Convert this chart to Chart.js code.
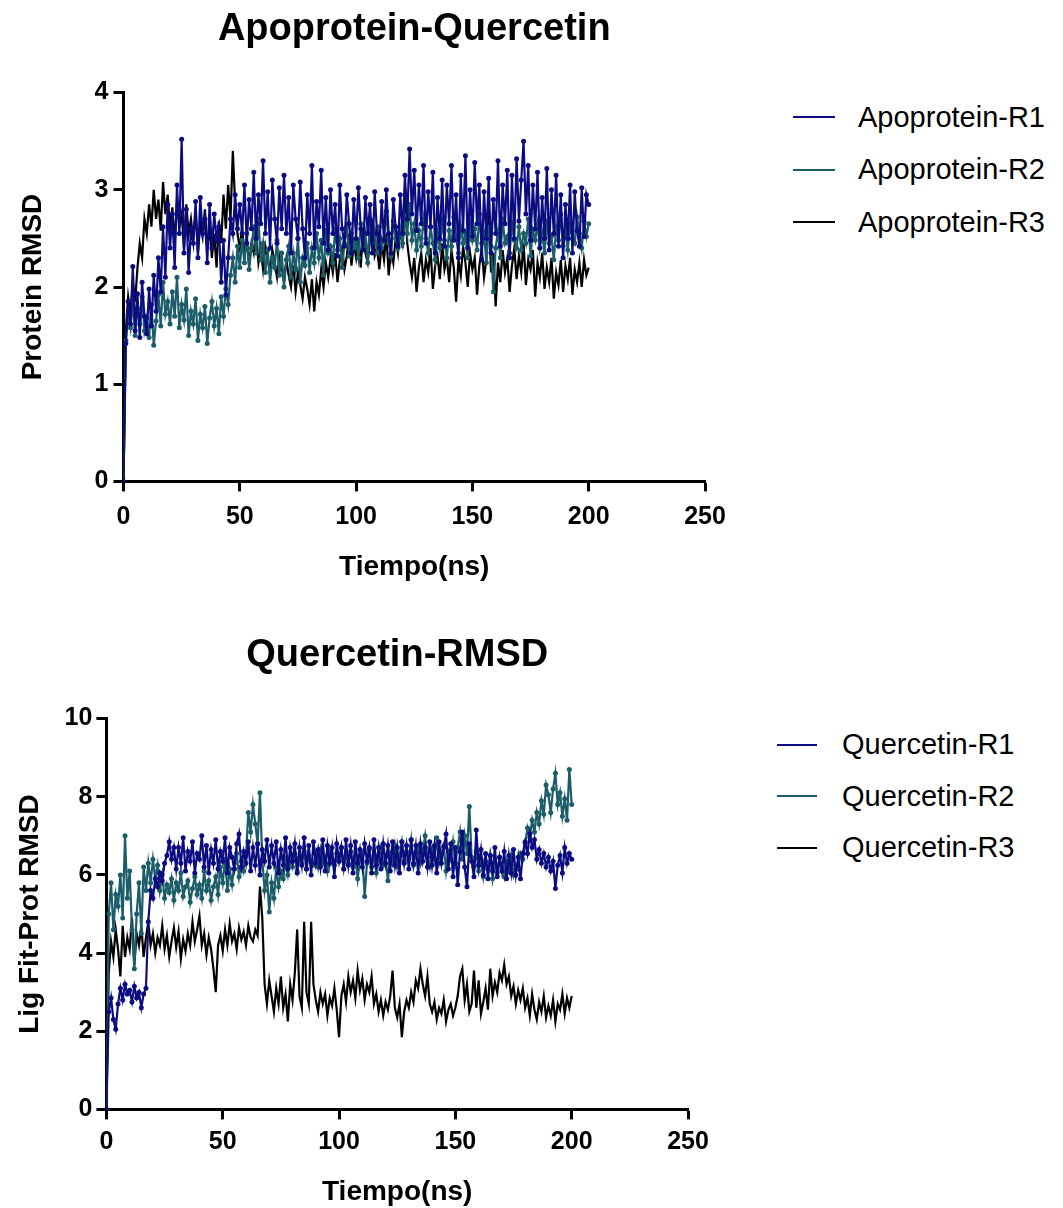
<!DOCTYPE html>
<html>
<head>
<meta charset="utf-8">
<script src="https://cdn.jsdelivr.net/npm/chart.js@4.4.1/dist/chart.umd.min.js"></script>
<style>
  html, body { margin: 0; padding: 0; background: #fff; }
  body { width: 1063px; height: 1208px; position: relative; overflow: hidden; font-family: "Liberation Sans", Arial, sans-serif; }
  .plot { position: absolute; left: 0; }
  .legend { position: absolute; }
  .legend-row { display: flex; align-items: center; font-size: 29px; color: #000; white-space: nowrap; }
  .legend-line { display: inline-block; height: 2px; }
</style>
</head>
<body>
<canvas id="apo-chart" class="plot" width="760" height="600" style="top:0px"></canvas>
<canvas id="quer-chart" class="plot" width="760" height="609" style="top:600px"></canvas>
<div id="apo-legend" class="legend"></div>
<div id="quer-legend" class="legend"></div>
<script>
// sampling: one frame per ns, 0..200 ns
const timeNs = Array.from({ length: 201 }, (_, i) => i);
const xTicks = [0, 50, 100, 150, 200, 250];
const apoYTicks = [0, 1, 2, 3, 4];
const querYTicks = [0, 2, 4, 6, 8, 10];

const apoNames = ['Apoprotein-R1', 'Apoprotein-R2', 'Apoprotein-R3'];
const querNames = ['Quercetin-R1', 'Quercetin-R2', 'Quercetin-R3'];
const seriesColors = ['#0c0c82', '#1b5d69', '#000000'];

// Protein RMSD (top panel)
const apoR1 = [
  0, 1.42, 1.85, 1.62, 2.21, 1.55, 1.93, 1.48, 2.05, 1.70,
  1.52, 1.98, 1.60, 2.12, 1.75, 2.30, 1.95, 2.62, 2.10, 2.85,
  2.40, 2.75, 2.20, 3.05, 2.55, 3.52, 2.35, 2.80, 2.15, 2.60,
  2.45, 2.88, 2.30, 2.92, 2.55, 2.70, 2.25, 2.85, 2.40, 2.75,
  2.50, 2.62, 2.05, 2.48, 1.92, 2.30, 2.70, 2.55, 2.95, 2.60,
  2.85, 2.55, 3.05, 2.45, 2.90, 2.60, 3.18, 2.50, 2.95, 2.65,
  3.30, 2.55, 2.98, 2.40, 3.10, 2.70, 2.45, 3.02, 2.60, 3.15,
  2.55, 2.92, 2.35, 3.05, 2.70, 2.50, 3.08, 2.60, 2.30, 2.95,
  2.55, 3.25, 2.40, 2.88, 2.62, 3.20, 2.45, 2.92, 2.38, 3.00,
  2.55, 2.85, 2.32, 3.05, 2.60, 2.42, 2.95, 2.65, 2.35, 2.90,
  2.50, 3.02, 2.60, 2.38, 2.92, 2.55, 2.85, 2.35, 2.98, 2.55,
  2.40, 2.88, 2.48, 3.00, 2.55, 2.35, 2.90, 2.62, 2.42, 2.95,
  2.55, 3.15, 2.70, 3.42, 2.75, 3.20, 2.58, 3.05, 2.65, 3.25,
  2.45, 2.98, 2.62, 3.18, 2.35, 2.92, 2.50, 3.10, 2.42, 3.05,
  2.65, 3.25, 2.48, 2.95, 2.30, 3.15, 2.58, 3.35, 2.40, 3.00,
  2.52, 3.28, 2.65, 3.05, 2.28, 2.98, 2.50, 3.12, 2.35, 2.90,
  2.55, 3.30, 2.42, 3.05, 2.65, 3.20, 2.30, 3.15, 2.50, 3.32,
  2.68, 3.10, 3.50, 2.75, 3.25, 2.48, 3.05, 2.60, 3.18, 2.40,
  2.92, 2.50, 3.22, 2.38, 3.00, 2.55, 3.15, 2.42, 2.95, 2.30,
  2.85, 2.50, 3.05, 2.35, 2.98, 2.58, 2.42, 3.02, 2.52, 2.95,
  2.85
];
const apoR2 = [
  0, 1.45, 1.72, 1.58, 1.85, 1.50, 1.78, 1.62, 1.90, 1.55,
  1.68, 1.48, 1.82, 1.40, 1.65, 1.92, 1.60, 2.05, 1.72, 1.85,
  1.62, 1.95, 1.70, 2.10, 1.58, 1.82, 1.66, 1.98, 1.50, 1.75,
  1.62, 1.88, 1.45, 1.72, 1.58, 1.80, 1.42, 1.68, 1.85, 1.60,
  1.78, 1.52, 1.90, 1.70, 1.98, 1.82, 2.12, 2.30, 2.05, 2.42,
  2.20, 2.48, 2.25, 2.55, 2.18, 2.40, 2.62, 2.35, 2.70, 2.28,
  2.45, 2.15, 2.38, 2.05, 2.30, 2.20, 2.48, 2.12, 2.35, 2.00,
  2.28, 2.42, 2.10, 2.35, 2.18, 2.50, 2.05, 2.30, 2.22, 2.45,
  2.15, 2.40, 2.25, 2.55, 2.30, 2.48, 2.12, 2.58, 2.35, 2.42,
  2.25, 2.60, 2.38, 2.50, 2.20, 2.45, 2.62, 2.32, 2.55, 2.40,
  2.48, 2.30, 2.65, 2.42, 2.55, 2.25, 2.70, 2.45, 2.58, 2.35,
  2.62, 2.40, 2.50, 2.78, 2.45, 2.32, 2.68, 2.50, 2.40, 2.60,
  2.45, 2.72, 2.55, 2.85, 2.48, 2.65, 2.38, 2.58, 2.42, 2.70,
  2.50, 2.35, 2.62, 2.45, 2.28, 2.55, 2.40, 2.68, 2.48, 2.30,
  2.58, 2.42, 2.72, 2.50, 2.35, 2.62, 2.45, 2.55, 2.30, 2.68,
  2.48, 2.60, 2.38, 2.75, 2.45, 2.55, 2.25, 2.62, 2.42, 1.95,
  2.40, 2.58, 2.30, 2.70, 2.45, 2.52, 2.35, 2.65, 2.48, 2.40,
  2.62, 2.38, 2.55, 2.45, 2.70, 2.32, 2.58, 2.48, 2.65, 2.40,
  2.55, 2.35, 2.68, 2.45, 2.52, 2.28, 2.62, 2.48, 2.75, 2.42,
  2.58, 2.38, 2.65, 2.50, 2.45, 2.72, 2.55, 2.40, 2.68, 2.52,
  2.65
];
const apoR3 = [
  0, 1.55, 1.90, 1.72, 2.05, 1.85, 2.20, 2.45, 2.30, 2.70,
  2.55, 2.85, 2.62, 3.00, 2.70, 2.90, 2.58, 3.08, 2.75, 2.95,
  2.60, 2.82, 2.45, 2.90, 2.62, 2.75, 2.40, 2.85, 2.55, 2.70,
  2.48, 2.78, 2.35, 2.65, 2.52, 2.80, 2.42, 2.60, 2.30, 2.55,
  2.20, 2.68, 2.45, 2.95, 2.60, 3.05, 2.70, 3.40, 2.85, 2.55,
  2.40, 2.62, 2.30, 2.50, 2.22, 2.45, 2.35, 2.58, 2.25, 2.40,
  2.18, 2.42, 2.30, 2.15, 2.38, 2.25, 2.10, 2.32, 2.20, 2.05,
  2.28, 2.12, 2.00, 2.22, 1.95, 2.15, 2.02, 1.88, 2.10, 1.98,
  1.82, 2.08, 1.75, 2.05, 1.92, 2.18, 2.00, 2.25, 2.10, 2.30,
  2.15, 2.35, 2.05, 2.28, 2.40, 2.18, 2.32, 2.55, 2.22, 2.45,
  2.30, 2.50, 2.20, 2.62, 2.35, 2.25, 2.48, 2.70, 2.32, 2.40,
  2.18, 2.45, 2.28, 2.55, 2.12, 2.38, 2.25, 2.50, 2.35, 2.62,
  2.40, 3.00, 2.45, 2.25, 2.10, 2.30, 1.95, 2.20, 2.35, 2.05,
  2.28, 2.15, 2.40, 1.98, 2.22, 2.32, 2.08, 2.45, 2.18, 2.30,
  2.05, 2.38, 2.20, 1.85, 2.28, 2.12, 2.42, 2.25, 2.00, 2.35,
  2.18, 2.30, 1.92, 2.22, 2.40, 2.10, 2.28, 2.82, 2.15, 2.35,
  1.80, 2.25, 2.05, 2.38, 2.15, 2.30, 1.95, 2.22, 2.40, 2.08,
  2.32, 2.15, 2.45, 2.02, 2.28, 2.18, 2.38, 1.90, 2.25, 2.10,
  2.35, 1.98, 2.20, 2.05, 2.30, 1.88, 2.15, 2.02, 2.28, 1.95,
  2.22, 2.08, 2.30, 1.92, 2.18, 2.05, 2.25, 2.00, 2.28, 2.12,
  2.20
];

// Ligand fit-on-protein RMSD (bottom panel)
const querR1 = [
  0, 2.50, 2.85, 2.30, 2.05, 2.70, 3.10, 2.80, 3.20, 2.95,
  3.05, 2.75, 3.15, 2.85, 3.00, 2.60, 2.95, 3.10, 4.80, 5.60,
  5.40, 5.90, 5.70, 6.05, 5.85, 6.30, 6.50, 6.85, 6.40, 6.70,
  6.15, 6.70, 6.30, 6.95, 6.10, 6.60, 6.35, 6.85, 6.05, 6.55,
  6.40, 7.00, 6.20, 6.75, 6.05, 6.65, 6.30, 6.90, 6.15, 6.60,
  6.35, 6.95, 6.05, 6.70, 6.45, 6.15, 6.80, 7.05, 6.20, 6.60,
  6.30, 6.85, 6.10, 6.70, 6.25, 6.80, 6.00, 6.65, 6.35, 6.90,
  6.20, 6.75, 6.30, 6.85, 6.05, 6.65, 6.25, 6.95, 6.15, 6.70,
  6.35, 6.80, 6.05, 6.70, 6.25, 6.95, 6.15, 6.75, 6.00, 6.85,
  6.30, 6.65, 6.20, 6.90, 6.10, 6.75, 6.30, 6.70, 5.95, 6.80,
  6.35, 6.70, 6.15, 6.90, 6.25, 6.75, 6.05, 6.85, 6.30, 6.65,
  6.20, 6.80, 6.35, 6.70, 6.05, 6.90, 6.25, 6.70, 6.15, 6.80,
  6.30, 6.75, 6.10, 6.85, 6.25, 6.70, 6.05, 6.85, 6.30, 6.75,
  6.15, 6.90, 6.30, 6.75, 6.05, 6.80, 6.35, 6.70, 6.20, 6.85,
  6.25, 6.75, 6.05, 6.85, 6.30, 6.70, 7.05, 6.15, 6.80, 5.95,
  6.70, 5.75, 6.60, 7.10, 6.20, 5.70, 6.80, 6.35, 5.95, 7.15,
  6.25, 6.65, 6.00, 6.55, 5.90, 6.50, 6.10, 6.70, 5.95, 6.45,
  6.10, 6.60, 5.90, 6.50, 6.05, 6.65, 6.00, 6.45, 5.90, 6.55,
  6.85, 6.55, 7.05, 6.70, 6.90, 6.40, 6.65, 6.30, 6.55, 6.20,
  6.45, 6.10, 6.35, 5.65, 6.25, 6.50, 6.05, 6.70, 6.30, 6.55,
  6.40
];
const querR2 = [
  0, 5.00, 5.80, 4.60, 5.50, 5.20, 6.00, 4.90, 7.00, 5.40,
  6.10, 4.60, 3.60, 5.00, 5.80, 4.50, 6.20, 5.60, 6.30, 5.80,
  6.40, 5.90, 6.25, 5.60, 6.00, 5.40, 5.75, 5.55, 5.90, 5.35,
  5.80, 5.60, 6.05, 5.45, 5.70, 5.85, 5.30, 5.65, 5.95, 5.50,
  5.75, 5.40, 6.10, 5.60, 5.85, 5.35, 5.70, 5.95, 5.50, 6.20,
  5.80, 6.40, 5.60, 6.15, 5.75, 6.30, 6.55, 5.95, 6.35, 6.10,
  6.50, 7.60, 7.10, 7.80, 7.30, 6.80, 8.10, 6.40, 5.60, 6.00,
  5.05, 5.80, 5.40, 6.20, 5.70, 6.10, 5.90, 6.35, 6.00, 6.40,
  6.20, 6.55, 6.10, 6.45, 6.30, 6.60, 6.15, 6.50, 6.35, 6.25,
  6.55, 6.20, 6.65, 6.30, 6.45, 6.10, 6.60, 6.40, 6.25, 6.55,
  6.35, 6.70, 6.15, 6.50, 6.30, 6.60, 6.20, 6.45, 5.90, 6.40,
  6.55, 5.45, 6.30, 6.65, 6.20, 6.50, 6.05, 6.40, 6.70, 6.25,
  6.45, 5.85, 6.55, 6.30, 6.75, 6.20, 6.50, 6.85, 6.35, 6.60,
  6.40, 6.90, 6.25, 6.55, 6.70, 6.30, 6.60, 7.00, 6.45, 6.20,
  6.65, 6.40, 6.95, 6.30, 6.55, 6.75, 6.10, 6.60, 6.40, 6.85,
  6.30, 6.70, 7.10, 6.40, 7.00, 6.55, 7.75, 6.45, 6.20, 6.60,
  6.10, 6.40, 5.95, 6.35, 6.15, 6.50, 5.90, 6.30, 6.05, 6.45,
  6.20, 5.95, 6.35, 6.10, 6.50, 6.00, 6.25, 6.15, 6.55, 6.40,
  6.80, 7.20, 6.95, 7.40, 7.10, 7.60, 7.30, 7.90, 7.55, 8.30,
  8.05, 7.60, 8.20, 8.60, 7.80, 8.10, 7.50, 7.95, 7.40, 8.70,
  7.80
];
const querR3 = [
  0, 3.50, 4.30, 3.90, 4.60, 4.10, 3.40, 4.70, 3.90, 4.40,
  4.10, 4.90, 3.70, 4.50, 4.20, 4.70, 3.90, 4.40, 4.80, 4.20,
  4.50, 4.00, 4.40, 4.20, 4.70, 4.10, 4.45, 3.90, 4.30, 4.65,
  4.15, 4.55, 3.85, 4.35, 4.05, 4.50, 4.20, 4.80, 4.30, 4.60,
  4.95, 4.20, 4.50, 3.95, 4.40, 4.10, 3.60, 3.00, 4.20, 4.45,
  4.05, 4.60, 4.20, 4.75, 4.30, 4.50, 4.10, 4.65, 4.35, 4.55,
  4.20, 4.70, 4.40, 4.30, 4.60, 4.45, 5.70, 4.90, 3.20, 2.70,
  3.30, 2.90, 2.50, 3.10, 2.70, 3.40, 2.60, 2.95, 2.25, 3.20,
  2.80, 3.50, 4.60, 2.90, 2.60, 4.80, 3.00, 2.70, 4.80, 3.20,
  2.80, 2.50, 3.00, 2.70, 2.95, 2.40, 2.85, 2.65, 3.10, 2.55,
  1.85, 2.90, 3.20, 2.75, 3.40, 3.00, 3.30, 2.85, 3.55, 3.05,
  3.35, 2.80, 3.20, 3.00, 3.40, 2.70, 2.95, 2.50, 2.80, 2.40,
  2.75, 2.55, 2.90, 3.55, 2.60, 2.35, 2.70, 1.85, 2.50, 2.80,
  2.60, 3.00, 2.75, 3.30, 3.10, 3.60, 3.20, 2.90, 3.40, 2.70,
  2.50, 2.75, 2.30, 2.60, 2.45, 2.80, 2.25, 2.55, 2.70, 2.40,
  2.60, 2.90, 3.40, 3.60, 2.80, 3.20, 2.50, 2.70, 3.55, 2.60,
  3.30, 2.45, 2.75, 3.10, 2.55, 3.60, 2.90, 3.25, 3.00, 3.50,
  3.30, 3.70, 3.20, 3.40, 2.90, 3.15, 2.70, 3.05, 2.80, 3.10,
  2.60, 2.85, 2.40, 2.95, 2.55, 2.30, 2.75, 2.50, 2.90, 2.35,
  2.65, 2.40, 2.80, 2.25, 2.70, 2.55, 2.95, 2.45, 2.85, 2.60,
  2.90
];

const FONT = '"Liberation Sans", Arial, sans-serif';

function buildDatasets(names, seriesList) {
  return seriesList.map((vals, i) => ({
    label: names[i],
    data: vals.map((v, k) => ({ x: timeNs[k], y: v })),
    borderColor: seriesColors[i],
    backgroundColor: seriesColors[i],
    borderWidth: 2.2,
    pointRadius: i < 2 ? 2.5 : 0,
    pointHoverRadius: 0,
    pointBorderWidth: 0,
    tension: 0,
  }));
}

function axisStyle(extra) {
  return Object.assign({
    border: { display: true, color: '#000', width: 3 },
    grid: { display: true, drawOnChartArea: false, drawTicks: true, tickLength: 10, tickWidth: 3, tickColor: '#000' },
  }, extra);
}

function makeChart(id, cfg) {
  const ctx = document.getElementById(id).getContext('2d');
  return new Chart(ctx, {
    type: 'line',
    data: { datasets: buildDatasets(cfg.names, cfg.series) },
    options: {
      responsive: false,
      animation: false,
      devicePixelRatio: 1,
      layout: { padding: { left: 0, right: cfg.padRight, top: 0, bottom: 0 } },
      plugins: {
        legend: { display: false },
        tooltip: { enabled: false },
        title: {
          display: true,
          text: cfg.title,
          fullSize: false,
          color: '#000',
          font: { family: FONT, size: 38, weight: 'bold', lineHeight: 1.2 },
          padding: cfg.titlePad,
        },
      },
      scales: {
        x: axisStyle({
          type: 'linear',
          min: xTicks[0],
          max: xTicks[xTicks.length - 1],
          ticks: { stepSize: xTicks[1] - xTicks[0], color: '#000', padding: cfg.xTickPad, maxRotation: 0, font: { family: FONT, size: 25, weight: 'bold', lineHeight: 1.2 } },
          title: { display: true, text: 'Tiempo(ns)', color: '#000', font: { family: FONT, size: 28, weight: 'bold', lineHeight: 1.2 }, padding: cfg.xTitlePad },
        }),
        y: axisStyle({
          type: 'linear',
          min: cfg.yTicks[0],
          max: cfg.yTicks[cfg.yTicks.length - 1],
          ticks: { stepSize: cfg.yTicks[1] - cfg.yTicks[0], color: '#000', padding: cfg.yTickPad, font: { family: FONT, size: 25, weight: 'bold', lineHeight: 1.2 } },
          title: { display: true, text: cfg.yTitle, color: '#000', font: { family: FONT, size: 28, weight: 'bold', lineHeight: 1.2 }, padding: cfg.yTitlePad },
        }),
      },
    },
  });
}

function renderLegend(id, names, pos) {
  const el = document.getElementById(id);
  el.style.left = pos.left + 'px';
  el.style.top = pos.top + 'px';
  el.innerHTML = names.map((n, i) =>
    `<div class="legend-row" style="height:${pos.row}px">` +
    `<span class="legend-line" style="width:${pos.line}px; margin-right:${pos.gap}px; background:${seriesColors[i]}"></span>` +
    `<span>${n}</span></div>`
  ).join('');
}

makeChart('apo-chart', {
  names: apoNames,
  series: [apoR1, apoR2, apoR3],
  title: 'Apoprotein-Quercetin',
  yTitle: 'Protein RMSD',
  yTicks: apoYTicks,
  padRight: 55,
  titlePad: { top: 7, bottom: 40 },
  xTickPad: 11,
  xTitlePad: { top: 7, bottom: 16 },
  yTickPad: 5,
  yTitlePad: { top: 16, bottom: 40 },
});

makeChart('quer-chart', {
  names: querNames,
  series: [querR1, querR2, querR3],
  title: 'Quercetin-RMSD',
  yTitle: 'Lig Fit-Prot RMSD',
  yTicks: querYTicks,
  padRight: 72,
  titlePad: { top: 33, bottom: 40 },
  xTickPad: 8,
  xTitlePad: { top: 10, bottom: 0 },
  yTickPad: 4,
  yTitlePad: { top: 13, bottom: 14 },
});

renderLegend('apo-legend', apoNames, { left: 793, top: 91, row: 52.5, line: 42, gap: 23 });
renderLegend('quer-legend', querNames, { left: 777, top: 719, row: 51.5, line: 40, gap: 25 });
</script>
</body>
</html>
